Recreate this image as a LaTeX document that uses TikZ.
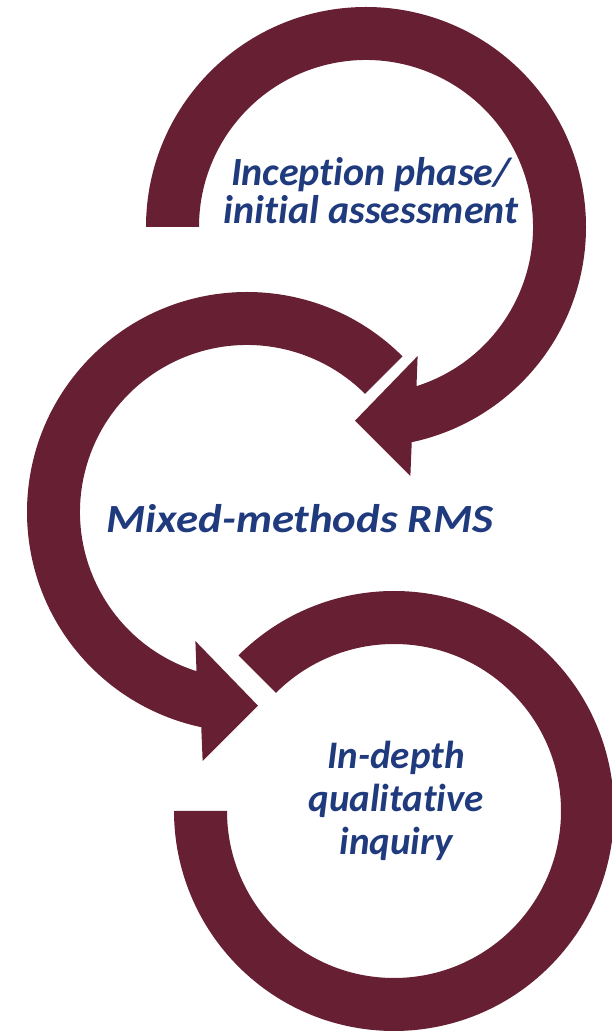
\documentclass[tikz,border=0pt]{standalone}
\usepackage{fontspec}
\usetikzlibrary{calc}
\newfontfamily\labelfont{Carlito}[Ligatures=NoCommon]
\definecolor{ringred}{HTML}{661F33}
\definecolor{labelblue}{HTML}{203A7E}

\begin{document}
\begin{tikzpicture}[x=1pt, y=1pt,
    ring/.style={fill=ringred, draw=none},
    stage/.style={text=labelblue, align=center, inner sep=0pt, anchor=base,
      font=\labelfont\bfseries\itshape\fontsize{40}{38}\selectfont}]
  \useasboundingbox (0,0) rectangle (611,1031);
  \coordinate (c1) at (366,804);
  \coordinate (c2) at (247,519);
  \coordinate (c3) at (394,220);
  % first ring, clockwise, head at the bottom
  \fill[ring] ($(c1)+(180:220)$) arc[start angle=180, end angle=-78, radius=220]
    -- ($(c1)+(-79.9:253)$) -- ($(c1)+(-93.25:194)$) -- ($(c1)+(-68.2:139)$)
    -- ($(c1)+(-72.4:167)$) arc[start angle=-72.4, end angle=180, radius=167] -- cycle;
  % second ring, anticlockwise
  \fill[ring] ($(c2)+(45:220)$) arc[start angle=45, end angle=258, radius=220]
    -- ($(c2)+(259.9:253)$) -- ($(c2)+(273.25:194)$) -- ($(c2)+(248.2:139)$)
    -- ($(c2)+(252.4:167)$) arc[start angle=252.4, end angle=45, radius=167] -- cycle;
  % third ring, no head
  \fill[ring] ($(c3)+(135:220)$) arc[start angle=135, end angle=-180, radius=220]
    -- ($(c3)+(180:167)$) arc[start angle=180, end angle=495, radius=167] -- cycle;
  % labels, anchored on the baseline of the last line
  \node[stage] (inception) at (371,807) {Inception phase/\\initial assessment};
  \node[stage] (mixed) at (300,498) {\scalebox{1.12}[1]{Mixed-methods RMS}};
  \node[stage, font=\labelfont\bfseries\itshape\fontsize{39}{43}\selectfont]
    (indepth) at (396,176) {In-depth\\qualitative\\inquiry};
\end{tikzpicture}
\end{document}
